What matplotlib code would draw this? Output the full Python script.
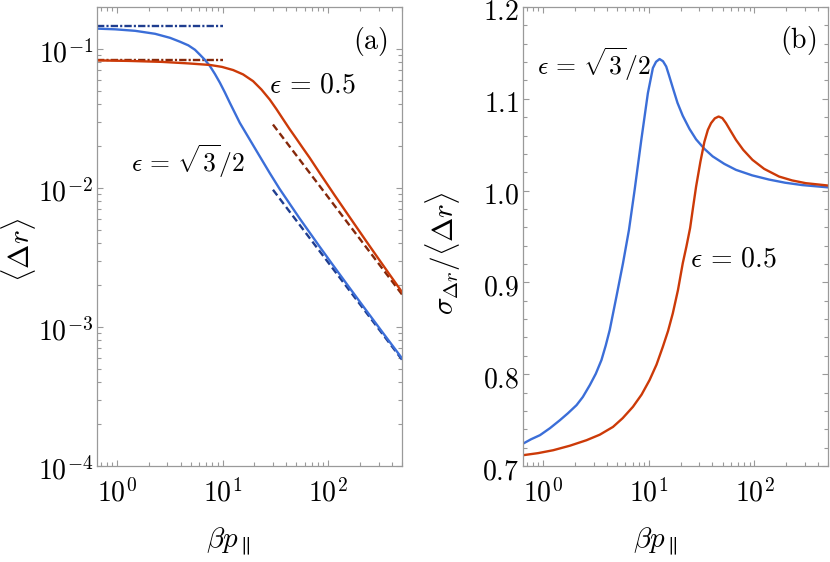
import numpy as np
import matplotlib
matplotlib.use("Agg")
import matplotlib.pyplot as plt
from matplotlib.ticker import FuncFormatter, LogLocator, MultipleLocator, NullFormatter
from matplotlib.transforms import ScaledTranslation

plt.rcParams['mathtext.fontset'] = 'cm'
plt.rcParams['font.family'] = ['DejaVu Serif']

# ---------------- data ----------------
# Panel (a): <Delta r> vs beta p_par
x_blue_a = [0.647, 0.964, 1.488, 2.297, 3.183, 3.955, 4.737, 5.479, 6.107, 6.808, 7.59,
            8.46, 9.43, 10.51, 11.72, 14.56, 18.09, 22.48, 27.94, 34.72, 53.6, 82.8,
            110.5, 158.5, 228.3, 339.7, 500]
y_blue_a = [0.1398, 0.1382, 0.1348, 0.1283, 0.1200, 0.1125, 0.1060, 0.0985, 0.0907, 0.0833,
            0.0752, 0.0660, 0.0571, 0.0486, 0.0409, 0.02937, 0.02226, 0.01687, 0.0128,
            0.00982, 0.00604, 0.003788, 0.002796, 0.001922, 0.00132, 0.00088, 0.000595]
x_red_a = [0.647, 1.286, 2.658, 4.737, 7.59, 9.85, 12.59, 15.64, 19.44, 23.33, 27.94,
           32.31, 37.30, 43.14, 49.90, 57.60, 66.62, 84.61, 114.7, 158.8, 228.3, 283.7,
           378.6, 500]
y_red_a = [0.0826, 0.0819, 0.0806, 0.0786, 0.0766, 0.0742, 0.0704, 0.0655, 0.0586, 0.0510,
           0.04324, 0.03693, 0.03129, 0.02649, 0.02263, 0.01932, 0.01651, 0.01254, 0.00889,
           0.00620, 0.004157, 0.003281, 0.002402, 0.001783]
# small-x limits (dash-dot) and large-x asymptotes (dashed)
x_lim_lines = [0.647, 10.0]
y_lim_blue = [0.146, 0.146]
y_lim_red = [0.0836, 0.0836]
x_asym = [30.0, 500.0]
y_asym_blue = [0.0097, 0.000582]
y_asym_red = [0.02856, 0.001714]

# Panel (b): sigma / <Delta r>
x_blue_b = [0.647, 0.7656, 0.931, 1.157, 1.437, 1.710, 2.066, 2.369, 2.759, 3.143, 3.556,
            3.904, 4.258, 4.926, 5.685, 6.476, 7.331, 8.479, 9.786, 10.91, 11.69, 12.62,
            13.61, 14.59, 15.51, 16.85, 18.66, 20.93, 24.21, 28.0, 33.54, 40.16, 51.8,
            66.77, 95.1, 137.6, 194.8, 283.7, 500]
y_blue_b = [0.7245, 0.7291, 0.7336, 0.7412, 0.7499, 0.7574, 0.7663, 0.7752, 0.7881, 0.8005,
            0.8154, 0.8313, 0.8481, 0.8844, 0.9208, 0.9571, 1.0008, 1.0553, 1.1062, 1.1335,
            1.1403, 1.1433, 1.1409, 1.1352, 1.1256, 1.1120, 1.0956, 1.0815, 1.0673, 1.0558,
            1.0455, 1.0373, 1.0291, 1.0226, 1.0166, 1.0120, 1.0086, 1.0060, 1.0035]
x_red_b = [0.647, 0.891, 1.243, 1.786, 2.567, 3.427, 4.575, 5.648, 7.065, 8.533, 10.15,
           11.82, 13.56, 15.18, 16.85, 18.86, 20.93, 22.68, 24.58, 26.24, 28.0, 30.74,
           33.54, 36.19, 38.8, 42.12, 45.75, 49.58, 53.74, 59.0, 66.77, 78.2, 95.7, 123.4,
           171.0, 226.9, 305.4, 500]
y_red_b = [0.7118, 0.7140, 0.7172, 0.7221, 0.7281, 0.7341, 0.7426, 0.7521, 0.7645, 0.7778,
           0.7936, 0.8105, 0.8299, 0.8470, 0.8663, 0.8917, 0.9208, 0.9392, 0.9593, 0.9822,
           1.0044, 1.0313, 1.0531, 1.0662, 1.0735, 1.0787, 1.0807, 1.0790, 1.0735, 1.0656,
           1.0553, 1.0444, 1.0335, 1.0237, 1.0153, 1.0111, 1.0081, 1.0055]

xticks = [1, 10, 100]
yticks_a = [1e-4, 1e-3, 1e-2, 1e-1]
yticks_b = [0.7, 0.8, 0.9, 1.0, 1.1, 1.2]

# ---------------- styling ----------------
BLUE = '#3b6ed8'
RED = '#cc3a08'
DBLUE = '#1f3d8f'
DRED = '#85280a'
FRAME = '#9a9a9a'
TICKFS = 20
LW = 1.7
DASHDOT = (3.1, 0.9, 0.9, 0.9)
DASHED = (3.0, 1.6)

W, H = 830, 562
fig = plt.figure(figsize=(W / 100, H / 100), dpi=100)

def px_axes(l, t, r, b):
    return fig.add_axes([l / W, 1 - b / H, (r - l) / W, (b - t) / H])

axA = px_axes(97, 7, 402, 466)
axB = px_axes(523.3, 7, 828.3, 466)

def pow10(v, pos):
    e = int(round(np.log10(v)))
    return r'$10^{%d}$' % e

for ax in (axA, axB):
    ax.set_xscale('log')
    ax.set_xlim(0.647, 500)
    ax.xaxis.set_major_locator(LogLocator(base=10, numticks=10))
    ax.xaxis.set_minor_locator(LogLocator(base=10, subs=np.arange(2, 10), numticks=20))
    ax.xaxis.set_major_formatter(FuncFormatter(pow10))
    ax.xaxis.set_minor_formatter(NullFormatter())
    for s in ax.spines.values():
        s.set_color(FRAME)
        s.set_linewidth(0.9)
    ax.tick_params(which='both', direction='in', top=True, right=True, color=FRAME,
                   width=0.8, labelsize=TICKFS, labelcolor='black')
    ax.tick_params(which='major', length=4.5)
    ax.tick_params(which='minor', length=2.6)
    ax.tick_params(axis='x', which='major', pad=9)
    ax.tick_params(axis='y', which='major', pad=3)

# Panel (a)
axA.set_yscale('log')
axA.set_ylim(1e-4, 0.2)
axA.set_yticks(yticks_a)
axA.yaxis.set_minor_locator(LogLocator(base=10, subs=np.arange(2, 10), numticks=20))
axA.yaxis.set_major_formatter(FuncFormatter(pow10))
axA.yaxis.set_minor_formatter(NullFormatter())
axA.set_xticks(xticks)

axA.plot(x_lim_lines, y_lim_blue, color=DBLUE, lw=LW, dashes=DASHDOT)
axA.plot(x_lim_lines, y_lim_red, color=DRED, lw=LW, dashes=DASHDOT)
axA.plot(x_asym, y_asym_blue, color=DBLUE, lw=LW, dashes=DASHED)
axA.plot(x_asym, y_asym_red, color=DRED, lw=LW, dashes=DASHED)
axA.plot(x_blue_a, y_blue_a, color=BLUE, lw=LW)
axA.plot(x_red_a, y_red_a, color=RED, lw=LW)

LBL_05 = r'$\epsilon\,=\,0.5$'
LBL_S3 = r'$\epsilon\,=\,\sqrt{3}/2$'

axA.text(0.895, 0.924, r'$(\mathrm{a})$', transform=axA.transAxes, fontsize=20,
         ha='center', va='center')
axA.text(0.564, 0.830, LBL_05, transform=axA.transAxes, fontsize=20,
         ha='left', va='center')
axA.text(0.113, 0.665, LBL_S3, transform=axA.transAxes, fontsize=18.5,
         ha='left', va='center')

# Panel (b)
axB.set_ylim(0.7, 1.2)
axB.set_yticks(yticks_b)
axB.yaxis.set_minor_locator(MultipleLocator(0.02))
axB.yaxis.set_major_formatter(FuncFormatter(lambda v, p: r'$%.1f$' % v))
axB.set_xticks(xticks)

axB.plot(x_blue_b, y_blue_b, color=BLUE, lw=LW)
axB.plot(x_red_b, y_red_b, color=RED, lw=LW)

axB.text(0.90, 0.928, r'$(\mathrm{b})$', transform=axB.transAxes, fontsize=20,
         ha='center', va='center')
axB.text(0.046, 0.876, LBL_S3, transform=axB.transAxes, fontsize=18.5,
         ha='left', va='center')
axB.text(0.545, 0.451, LBL_05, transform=axB.transAxes, fontsize=20,
         ha='left', va='center')

# shift y tick labels slightly down, as in the reference
for ax in (axA, axB):
    for lab in ax.get_yticklabels():
        lab.set_transform(lab.get_transform() +
                          ScaledTranslation(0, -2.5 / 100, fig.dpi_scale_trans))

# Axis labels
def ftext(px, py, s, **kw):
    fig.text(px / W, 1 - py / H, s, **kw)

ftext(228, 541, r'$\beta p_{\parallel}$', fontsize=21, ha='center', va='center')
ftext(655, 541, r'$\beta p_{\parallel}$', fontsize=21, ha='center', va='center')
ftext(19, 250, r'$\langle \Delta r \rangle$', fontsize=21, ha='center', va='center',
      rotation=90)
ftext(443, 253, r'$\sigma_{\Delta r}/\langle \Delta r \rangle$', fontsize=21,
      ha='center', va='center', rotation=90)

fig.savefig('out.png', dpi=100)
